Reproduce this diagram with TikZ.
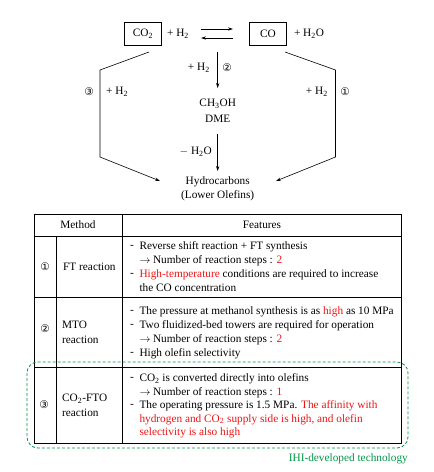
\documentclass[tikz,border=0pt]{standalone}
\usepackage{fontspec}
\setmainfont{Liberation Serif}
\newfontfamily\circfont{DejaVu Sans}
\usetikzlibrary{arrows.meta}
\definecolor{hired}{RGB}{235,20,20}
\definecolor{higreen}{RGB}{0,150,70}
\newcommand{\subsc}[1]{\textsubscript{#1}}
\newcommand{\rarr}{\makebox[11pt][l]{$\rightarrow$}\hspace{2.5pt}}
\begin{document}
\begin{tikzpicture}[x=1pt,y=-1pt,
  txt/.style={inner sep=0pt,font=\fontsize{11.3}{13}\selectfont},
  lt/.style={txt,anchor=west},
  box/.style={draw,line width=0.7pt,minimum width=37pt,minimum height=22.5pt,inner sep=0pt,font=\fontsize{11.3}{13}\selectfont},
  circ/.style={inner sep=0pt,font=\circfont\fontsize{10.5}{11}\selectfont},
  arr/.style={line width=0.6pt,-{Stealth[length=5pt,width=3.2pt]}},
  conn/.style={line width=0.6pt},
  tline/.style={line width=0.5pt}]
\useasboundingbox (0,0) rectangle (434,472);
% --- reaction scheme ---
\node[box] (co2) at (143,33.8) {CO\subsc{2}};
\node[txt] (h2a) at (178,34) {+ H\subsc{2}};
\node[box] (co) at (268,33.8) {CO};
\node[txt] (h2o) at (309,34) {+ H\subsc{2}O};
\coordinate (eqL1) at (201,29);
\coordinate (eqR1) at (233,29);
\coordinate (eqL2) at (201,38);
\coordinate (eqR2) at (233,38);
\draw[arr] (eqL1) -- (eqR1);
\draw[arr] (eqR2) -- (eqL2);
\coordinate (v2a) at (217.7,52);
\node[txt] (meoh) at (217.7,104) {CH\subsc{3}OH};
\node[txt] (dme) at (217.7,119) {DME};
\draw[arr] (v2a) -- (217.7,88);
\node[txt,anchor=east] (h2b) at (210,68) {+ H\subsc{2}};
\node[circ] (n2) at (227,68) {②};
\node[txt] (hc) at (217.7,182) {Hydrocarbons};
\node[txt] (lo) at (217.7,196) {(Lower Olefins)};
\coordinate (d1) at (217.7,134);
\draw[arr] (d1) -- (217.7,171);
\node[txt,anchor=east] (mh2o) at (212,152) {$-$ H\subsc{2}O};
% left path
\coordinate (la) at (149,52);
\coordinate (lb) at (100,70);
\coordinate (lc) at (100,157);
\coordinate (ld) at (160,181);
\draw[conn] (la) -- (lb) -- (lc);
\draw[arr] (lc) -- (ld);
\node[circ] (n3) at (89,92) {③};
\node[txt,anchor=west] (h2c) at (106,92) {+ H\subsc{2}};
% right path
\coordinate (ra) at (285,52);
\coordinate (rb) at (335.5,70);
\coordinate (rc) at (335.5,157);
\coordinate (rd) at (276,181);
\draw[conn] (ra) -- (rb) -- (rc);
\draw[arr] (rc) -- (rd);
\node[circ] (n1) at (345,92) {①};
\node[txt,anchor=east] (h2d) at (328,92) {+ H\subsc{2}};
% --- table ---
\draw[line width=0.9pt] (34,214) rectangle (401,443);
\draw[tline] (34,236) -- (401,236);
\draw[tline] (34,297) -- (401,297);
\draw[tline] (34,367) -- (401,367);
\draw[tline] (56,236) -- (56,443);
\draw[tline] (122,214) -- (122,443);
\node[txt] (hm) at (78,225) {Method};
\node[txt] (hf) at (262,225) {Features};
% row 1
\node[circ] (r1) at (45,267) {①};
\node[lt] (m1) at (63,267) {FT reaction};
\node[lt] at (130,247) {-};
\node[lt] at (139.3,247) {Reverse shift reaction + FT synthesis};
\node[lt] at (139.3,260.5) {\rarr Number of reaction steps : \textcolor{hired}{2}};
\node[lt] at (130,274.5) {-};
\node[lt] at (139.3,274.5) {\textcolor{hired}{High-temperature} conditions are required to increase};
\node[lt] at (139.3,288) {the CO concentration};
% row 2
\node[circ] (r2) at (45,329) {②};
\node[lt] at (62,325) {MTO};
\node[lt] at (62,340) {reaction};
\node[lt] at (130,312) {-};
\node[lt] at (139.3,312) {The pressure at methanol synthesis is as \textcolor{hired}{high} as 10 MPa};
\node[lt] at (130,326) {-};
\node[lt] at (139.3,326) {Two fluidized-bed towers are required for operation};
\node[lt] at (139.3,340) {\rarr Number of reaction steps : \textcolor{hired}{2}};
\node[lt] at (130,354) {-};
\node[lt] at (139.3,354) {High olefin selectivity};
% row 3
\node[circ] (r3) at (44,405) {③};
\node[lt] at (62,399) {CO\subsc{2}-FTO};
\node[lt] at (62,413) {reaction};
\node[lt] at (130,379) {-};
\node[lt] at (139.3,379) {CO\subsc{2} is converted directly into olefins};
\node[lt] at (139.3,392.5) {\rarr Number of reaction steps : \textcolor{hired}{1}};
\node[lt] at (130,406) {-};
\node[lt] at (139.3,406) {The operating pressure is 1.5 MPa. \textcolor{hired}{The affinity with}};
\node[lt] at (139.3,419.5) {\textcolor{hired}{hydrogen and CO\subsc{2} supply side is high, and olefin}};
\node[lt] at (139.3,432.5) {\textcolor{hired}{selectivity is also high}};
% green dashed frame
\draw[higreen,line width=0.8pt,dash pattern=on 3pt off 2pt,rounded corners=11pt] (27,362) rectangle (408,448);
\node[txt,anchor=east,text=higreen] (ihi) at (408,459) {IHI-developed technology};
\end{tikzpicture}
\end{document}
